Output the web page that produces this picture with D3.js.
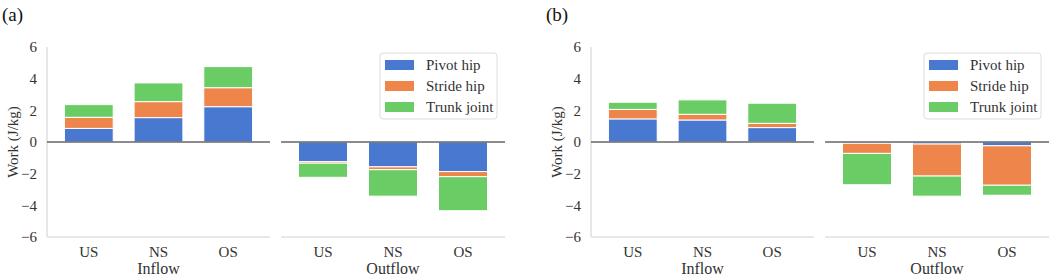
<!DOCTYPE html>
<html>
<head>
<meta charset="utf-8">
<script src="https://cdn.jsdelivr.net/npm/d3@7"></script>
<style>
  html, body { margin: 0; padding: 0; background: #fff; }
  svg { display: block; }
</style>
</head>
<body>
<svg id="chart" width="1053" height="280"></svg>
<script>
// ---------- data ----------
const categories = ["US", "NS", "OS"];
const groups = ["Inflow", "Outflow"];
const seriesNames = ["Pivot hip", "Stride hip", "Trunk joint"];
const yTicks = [-6, -4, -2, 0, 2, 4, 6];
const panelLabels = ["(a)", "(b)"];

// panel (a)
const aInflowPivot  = [0.86, 1.54, 2.23];
const aInflowStride = [0.70, 1.01, 1.20];
const aInflowTrunk  = [0.80, 1.18, 1.33];
const aOutflowPivot  = [-1.24, -1.57, -1.87];
const aOutflowStride = [-0.10, -0.18, -0.32];
const aOutflowTrunk  = [-0.89, -1.67, -2.15];

// panel (b)
const bInflowPivot  = [1.46, 1.39, 0.91];
const bInflowStride = [0.60, 0.36, 0.27];
const bInflowTrunk  = [0.45, 0.91, 1.27];
const bOutflowPivot  = [-0.08, -0.13, -0.24];
const bOutflowStride = [-0.64, -2.02, -2.49];
const bOutflowTrunk  = [-1.98, -1.27, -0.63];

const colors = ["#4878d0", "#ee854a", "#6acc64"];

// ---------- helpers ----------
const FONT = "'Liberation Serif', 'Times New Roman', serif";

function toRows(pivot, stride, trunk) {
  return categories.map((c, i) => ({
    cat: c,
    [seriesNames[0]]: pivot[i],
    [seriesNames[1]]: stride[i],
    [seriesNames[2]]: trunk[i]
  }));
}

const panels = [
  { label: panelLabels[0], ox: 0,
    groups: [toRows(aInflowPivot, aInflowStride, aInflowTrunk),
             toRows(aOutflowPivot, aOutflowStride, aOutflowTrunk)] },
  { label: panelLabels[1], ox: 544,
    groups: [toRows(bInflowPivot, bInflowStride, bInflowTrunk),
             toRows(bOutflowPivot, bOutflowStride, bOutflowTrunk)] }
];

const svg = d3.select("#chart");
const yTop = 47, yBot = 237;
const y = d3.scaleLinear().domain([-6, 6]).range([yBot, yTop]);
const color = d3.scaleOrdinal().domain(seriesNames).range(colors);
const fmt = v => (v < 0 ? "\u2212" + Math.abs(v) : String(v));

const stack = d3.stack().keys(seriesNames).offset(d3.stackOffsetDiverging);

panels.forEach(p => {
  const g = svg.append("g").attr("transform", `translate(${p.ox},0)`);

  // panel label
  g.append("text").attr("x", 2).attr("y", 21)
    .style("font-family", FONT).style("font-size", "19px").attr("fill", "#111").text(p.label);

  // y axis label
  g.append("text")
    .attr("transform", `translate(18,${(yTop + yBot) / 2}) rotate(-90)`)
    .attr("text-anchor", "middle")
    .style("font-family", FONT).style("font-size", "15px").attr("fill", "#333")
    .text("Work (J/kg)");

  // y axis (ticks only)
  const yAxis = g.append("g").attr("transform", "translate(47,0)")
    .call(d3.axisLeft(y).tickValues(yTicks).tickSize(0).tickPadding(10).tickFormat(fmt));
  yAxis.select(".domain").remove();
  yAxis.selectAll("text").style("font-size", "15px").attr("fill", "#333")
    .style("font-family", FONT);

  // left spine
  g.append("line").attr("x1", 47).attr("x2", 47).attr("y1", yTop).attr("y2", yBot)
    .attr("stroke", "#d0d0d0").attr("stroke-width", 1);

  const subRanges = [[47, 270], [281, 505]];

  p.groups.forEach((rows, gi) => {
    const [x0, x1] = subRanges[gi];
    const x = d3.scaleBand().domain(categories).range([x0, x1])
      .paddingInner(0.3).paddingOuter(0.25);

    // bottom spine
    g.append("line").attr("x1", x0).attr("x2", x1).attr("y1", yBot).attr("y2", yBot)
      .attr("stroke", "#d0d0d0").attr("stroke-width", 1);

    // bars
    const stacked = stack(rows);
    g.append("g").selectAll("g").data(stacked).join("g")
      .attr("fill", d => color(d.key))
      .selectAll("rect").data(d => d).join("rect")
      .attr("x", d => x(d.data.cat))
      .attr("width", x.bandwidth())
      .attr("y", d => y(Math.max(d[0], d[1])))
      .attr("height", d => Math.abs(y(d[0]) - y(d[1])))
      .attr("stroke", "#fff").attr("stroke-width", 1);

    // zero line
    g.append("line").attr("x1", x0).attr("x2", x1).attr("y1", y(0)).attr("y2", y(0))
      .attr("stroke", "#666").attr("stroke-width", 1.5);

    // x axis
    const xAxis = g.append("g").attr("transform", `translate(0,${yBot})`)
      .call(d3.axisBottom(x).tickSize(0).tickPadding(9));
    xAxis.select(".domain").remove();
    xAxis.selectAll("text").style("font-size", "15px").attr("fill", "#333")
      .style("font-family", FONT);

    // group label
    g.append("text").attr("x", (x0 + x1) / 2).attr("y", 274)
      .attr("text-anchor", "middle").style("font-size", "16px").attr("fill", "#333")
      .style("font-family", FONT)
      .text(groups[gi]);
  });

  // legend
  const lg = g.append("g").attr("transform", "translate(380,53)");
  lg.append("rect").attr("width", 117).attr("height", 66).attr("rx", 3)
    .attr("fill", "#fff").attr("stroke", "#dcdcdc").attr("stroke-width", 1);
  seriesNames.forEach((s, i) => {
    const cy = 12 + i * 21;
    lg.append("rect").attr("x", 5).attr("y", cy - 5).attr("width", 29).attr("height", 10)
      .attr("fill", color(s));
    lg.append("text").attr("x", 46).attr("y", cy + 5)
      .style("font-family", FONT).style("font-size", "15px").attr("fill", "#333").text(s);
  });
});
</script>
</body>
</html>
